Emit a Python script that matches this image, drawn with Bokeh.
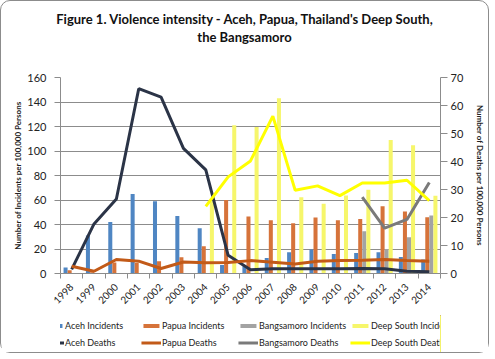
import math
from bokeh.plotting import figure
from bokeh.layouts import column
from bokeh.models import (ColumnDataSource, Range1d, LinearAxis, FixedTicker, Legend, LegendItem, Div)
from bokeh.transform import dodge
from bokeh.embed import file_html
from bokeh.resources import INLINE

nan = float("nan")

# ---------------- data ----------------
years = [str(y) for y in range(1998, 2015)]
aceh_incidents = [5, 31, 42, 65, 59, 47, 37, 7, 6, 12.7, 17.3, 19.5, 16, 16.8, 17.3, 13.5, 11.5]
papua_incidents = [2.7, 1, 9, 8.6, 10, 13.3, 22.2, 60, 46.5, 43.4, 41, 45.8, 43.4, 44.4, 54.8, 50.7, 46]
bangsamoro_incidents = [nan] * 13 + [34.4, 20, 29.6, 47.4]
deepsouth_incidents = [nan] * 6 + [59, 121, 119.5, 143, 62.3, 57, 63.7, 68.3, 109, 104.6, 63.5]

aceh_deaths = [1.5, 17.7, 26.6, 66, 63, 44.7, 37, 6.5, 1.3, 1.7, 1.7, 1.7, 1.7, 1.8, 1.7, 0.8, 0.6]
papua_deaths = [2.6, 0.8, 5.0, 4.4, 1.8, 4.1, 3.8, 3.9, 4.6, 4.0, 3.4, 4.4, 4.6, 4.7, 5.0, 4.6, 4.4]
bangsamoro_deaths = [nan] * 13 + [27.3, 16.2, 19.3, 32.5]
deepsouth_deaths = [nan] * 6 + [24, 34.5, 40.2, 56.2, 29.7, 31.3, 27.8, 32.3, 32.3, 33.3, 26]

incident_ticks = list(range(0, 161, 20))
death_ticks = list(range(0, 71, 10))

title_line1 = "Figure 1. Violence intensity - Aceh, Papua, Thailand's Deep South,"
title_line2 = "the Bangsamoro"
left_label = "Number of Incidents per 100,000 Persons"
right_label = "Number of Deaths per 100,000 Persons"
bar_names = ["Aceh Incidents", "Papua Incidents", "Bangsamoro Incidents", "Deep South Incidents"]
line_names = ["Aceh Deaths", "Papua Deaths", "Bangsamoro Deaths", "Deep South Deaths"]
bar_cols = ["aceh_i", "papua_i", "bang_i", "ds_i"]
line_cols = ["aceh_d", "papua_d", "bang_d", "ds_d"]

# ---------------- styles ----------------
FONT = "Lato"
GRID = "#8c8c8c"
TXT = "#222222"
BAR_COLORS = ["#4f86c3", "#d6733a", "#a3a3a3", "#f6f66b"]
LINE_COLORS = ["#2b3447", "#c25a18", "#7a7a7a", "#ffff00"]
W = 487

n = len(years)
slot_centers = [i + 0.5 for i in range(n)]      # category slot centres
slot_edges = list(range(n + 1))                 # category slot boundaries

src = ColumnDataSource(dict(
    xc=slot_centers, year=years,
    aceh_i=aceh_incidents, papua_i=papua_incidents,
    bang_i=bangsamoro_incidents, ds_i=deepsouth_incidents,
    aceh_d=aceh_deaths, papua_d=papua_deaths,
    bang_d=bangsamoro_deaths, ds_d=deepsouth_deaths,
))

# ---------------- title ----------------
title_div = Div(
    text=("<div style=\"font-family:'Lato';font-weight:bold;font-size:13px;line-height:18px;"
          "text-align:center;color:#111111;padding-top:9px;width:%dpx;\">%s<br>%s</div>"
          % (W, title_line1, title_line2)),
    width=W, height=68, margin=0)

# ---------------- main chart ----------------
p = figure(x_range=Range1d(0, n), y_range=Range1d(0, 160),
           width=W, height=246, output_backend="svg", toolbar_location=None,
           min_border_left=59, min_border_right=45, min_border_top=8, min_border_bottom=42,
           x_axis_location=None)
p.outline_line_color = None
p.background_fill_color = "white"
p.border_fill_color = "white"

p.extra_y_ranges = {"deaths": Range1d(0, 70)}

yax = p.yaxis[0]
yax.ticker = FixedTicker(ticks=incident_ticks)
yax.axis_label = left_label
yax.axis_label_text_font = FONT
yax.axis_label_text_font_size = "8px"
yax.axis_label_text_font_style = "bold"
yax.axis_label_text_color = TXT
yax.axis_label_standoff = 1
yax.major_label_text_font = FONT
yax.major_label_text_font_size = "11px"
yax.major_label_text_color = TXT
yax.major_tick_out = 6
yax.major_tick_in = 0
yax.minor_tick_line_color = None
yax.axis_line_color = GRID
yax.major_tick_line_color = GRID
yax.major_label_standoff = 8

rax = LinearAxis(y_range_name="deaths", ticker=FixedTicker(ticks=death_ticks),
                 axis_label=right_label)
rax.axis_label_text_font = FONT
rax.axis_label_text_font_size = "8px"
rax.axis_label_text_font_style = "bold"
rax.axis_label_text_color = TXT
rax.axis_label_standoff = 9
rax.major_label_text_font = FONT
rax.major_label_text_font_size = "11px"
rax.major_label_text_color = TXT
rax.major_tick_out = 7
rax.major_tick_in = 0
rax.minor_tick_line_color = None
rax.axis_line_color = GRID
rax.major_tick_line_color = GRID
rax.major_label_standoff = 3
p.add_layout(rax, "right")

tick_axis = LinearAxis(ticker=FixedTicker(ticks=slot_edges),
                       major_label_text_font_size="0px", major_tick_out=5, major_tick_in=0,
                       minor_tick_line_color=None, axis_line_color=GRID,
                       major_tick_line_color=GRID, major_label_standoff=0)
p.add_layout(tick_axis, "below")
lab_axis = LinearAxis(ticker=FixedTicker(ticks=slot_centers),
                      major_label_overrides={c: y for c, y in zip(slot_centers, years)},
                      axis_line_color=None, major_tick_line_color=None, minor_tick_line_color=None,
                      major_label_orientation=math.pi / 4,
                      major_label_text_font=FONT, major_label_text_font_size="10px",
                      major_label_text_color=TXT, major_label_standoff=1)
p.add_layout(lab_axis, "below")

p.xgrid.visible = False
p.ygrid.grid_line_color = GRID
p.ygrid.ticker = FixedTicker(ticks=incident_ticks[1:])

w = 0.18
offs = [-0.2727, -0.0909, 0.0909, 0.2727]
for col, off, c in zip(bar_cols, offs, BAR_COLORS):
    p.vbar(x=dodge("xc", off), top=col, width=w, source=src, fill_color=c, line_color=None)
for col, c in zip(line_cols, LINE_COLORS):
    p.line("xc", col, source=src, y_range_name="deaths", line_color=c, line_width=3)

# ---------------- legend strip ----------------
# the same series are drawn here outside the visible range, only so the legend can show their keys
lp = figure(width=W, height=37, output_backend="svg", toolbar_location=None,
            min_border_left=0, min_border_right=0, min_border_top=0, min_border_bottom=0,
            x_axis_location=None, y_axis_location=None,
            x_range=Range1d(-n - 10, -n - 9), y_range=Range1d(0, 1))
lp.outline_line_color = None
lp.xgrid.visible = False
lp.ygrid.visible = False
items = []
for name, col, c in zip(bar_names, bar_cols, BAR_COLORS):
    r = lp.vbar(x="xc", top=col, width=w, source=src, fill_color=c, line_color=None)
    items.append(LegendItem(label=name, renderers=[r]))
for name, col, c in zip(line_names, line_cols, LINE_COLORS):
    r = lp.line("xc", col, source=src, line_color=c, line_width=3)
    items.append(LegendItem(label=name, renderers=[r]))

lg = Legend(items=items, orientation="horizontal", ncols=4, location="center")
lg.label_text_font = FONT
lg.label_text_font_size = "9px"
lg.label_text_color = TXT
lg.glyph_width = 20
lg.glyph_height = 5
lg.label_standoff = 1
lg.label_height = 13
lg.label_width = 72
lg.spacing = 4
lg.padding = 0
lg.margin = 0
lg.border_line_color = None
lg.background_fill_alpha = 0
lp.add_layout(lg, "center")

layout = column(title_div, p, lp, spacing=0)
layout.styles = {"border": "1px solid #8c8c8c", "border-radius": "10px", "background": "white"}

open("out.html", "w").write(file_html(layout, INLINE))
